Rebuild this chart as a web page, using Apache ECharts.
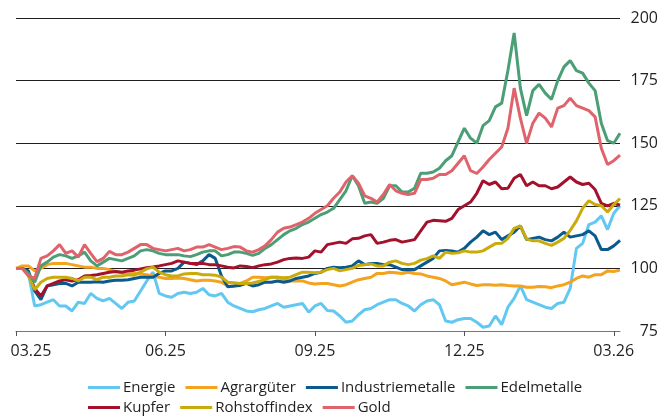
<!DOCTYPE html>
<html>
<head>
<meta charset="utf-8">
<script src="https://cdn.jsdelivr.net/npm/echarts@6/dist/echarts.min.js"></script>
<style>
  html, body { margin: 0; padding: 0; background: #fff; }
  #chart { width: 672px; height: 416px; }
</style>
</head>
<body>
<div id="chart"></div>
<script>
// x = Handelstag-Index (ca. 98 Stuetzpunkte von 03.25 bis Anfang 03.26), Index 03.25 = 100
var tickPos = [0, 24, 48, 72, 96];
var tickLabels = ['03.25', '06.25', '09.25', '12.25', '03.26'];

var energie = [100,100,98,85,85.5,86.5,87.5,85,85,83,
    86.5,86,90,88,87,88,86,84,86.5,87,
    91,95,98.5,90,89,88.5,90,90.5,90,90.5,
    92,89.5,89,90,86.5,85,84,83,82.7,83.5,
    84,85,86,84.5,85,85.5,86,82.5,85,86,
    83.2,83,81,78.5,79,81.5,83.5,84,85.5,86.5,
    87.5,87.5,86,85,83,85.5,87,87.5,85.5,79,
    78.5,79.5,80,80,78.5,76.5,77,81,77.5,84.5,
    88,93,87.5,86.5,85.5,84.5,84,86,86.5,92,
    108,110,117.5,118.5,121,115.5,122,125];

var agrar = [100,101,101,99,100,101.5,102,102,102,101.5,
    101,100.5,100.5,100,100,99.5,98.8,98.3,97.8,98,
    97.8,97.5,97,96.5,96,96,96.2,96,95.5,95,
    95.3,95.3,95,94.5,93,92.8,94,95,96.5,96.5,
    96.3,96.5,96.5,95.5,95,95,95,94.2,93.8,94,
    94,93.5,93,93.5,94.5,95.5,96,96.5,98,98,
    98.5,98.3,98,98.5,98,97.8,97,96.5,96,95,
    93.5,94,94.5,93.8,93.2,93.5,93.5,93.3,93.5,93.2,
    93,93,92.5,92.5,92.8,92.7,92.3,93,93.5,94.5,
    96,97,96.5,97.5,97.5,99,98.8,99.3];

var industrie = [100,100,99,91,87.5,93,93.5,94,94,93,
    94.5,94.5,94.5,94.7,94.5,95,95.3,95.3,95.5,96,
    96.5,96.5,96.5,98,99,99,100,102.5,102,101.5,
    103,105.5,104,97,92.7,93,93.2,94,93,93.5,
    94.5,94.5,95,94.5,95,96,96.5,97,98,98.5,
    100,100.5,100.3,100.5,101,103,101.5,102,102,101.5,
    101.5,100.5,99.5,99.5,99.5,101,102.5,104,107,107.2,
    107,106.5,108,110.5,112.5,115,113.5,114.5,111.5,113,
    114.5,117,111.5,112,112.5,111.5,111,112.5,114.5,112.5,
    113,113.5,115,113,107.5,107.5,109,111.2];

var edel = [100,100,98,94.5,101,102.5,104.5,105.5,105,104,
    105,106.5,103,101,102.5,104,103.5,103,104,105,
    107,107.5,107,106,105.5,105.5,105.5,105,104.7,105.5,
    106.5,107,107,105,105.5,106.5,106.5,106,105.2,106,
    108,109.5,111.5,113.5,115,116,117.5,118.5,120,121.5,
    122.5,124,127.5,131,137,133,126,126.5,126,128,
    133,133,130.5,130.5,132,138,138,138.5,140,143,
    145,150.5,156,152,150,157,159,164.5,166,179,
    194,172,161,171,173.5,170,167.5,175,180.5,183,
    179,178,174,171,158,151,150,154];

var kupfer = [100,100,98,92,89,93,94,95,95.5,95,
    95.5,97,97.2,97.5,98,98.5,98.8,98.5,99,99.3,
    99.8,100.3,100.6,101,101.5,102,103,102.5,102,102,
    102,101.5,101.5,101,100.5,100.2,101,100.8,100.3,101,
    101.5,101.8,102.5,103.5,104,104.2,104,104.5,107,106.5,
    109.5,110,110.5,110,111.8,112,113,113.5,110,110.5,
    111.2,111.5,110.5,111,111.5,115,118.5,119.2,119,118.8,
    120,123.5,125,126.5,130,135,133.5,134.5,131.8,132,
    136,137.5,133,134.5,133,133,131.8,132.5,134.5,136.5,
    134.5,133.5,134,131.5,126,125,126,125.2];

var rohstoff = [100,100,97,91.5,94.5,96,96.5,96.5,96.5,96,
    95,96.5,96.5,95.5,96.5,96.5,97,97,97.5,97.3,
    98.5,99.8,100.5,98.5,97.5,97,97,97.8,98,98,
    97.5,97.5,97.3,96.5,94.5,94.3,94,94,94.2,94.8,
    95.5,96.5,96.5,96.3,96.5,97.5,98.5,98.5,98.3,98.5,
    99.5,100,99,99.5,100,101.2,101.5,101.8,101,101,
    102.5,103,102,101.5,102,103.3,103.9,105,104,106.5,
    106,106.2,107,106.5,106.5,107,108.5,109.9,110,112,
    116,117,111.7,111,111,110,109.2,110.5,112,115.2,
    119,124,127,125.5,125,122.5,125.5,127.9];

var gold = [100,100,97,96,104,105,107,109.5,106,107,
    104.5,109.5,106,102.7,104,106.8,105.5,105.5,106.5,108,
    109.5,109.5,108,107.5,107,107.5,108,107,107.5,108.5,
    108.5,109.5,108.5,107.5,108,108.7,108.5,107,106.5,107.5,
    109,111.5,114.5,116,116.5,117.5,118.5,120,122,123.5,
    125,128,130.5,134.5,137,134,129,128,126.5,129.5,
    133.5,131,130,129.5,130,135.5,135.5,136,137.5,137.5,
    139,142,145,139,137.9,140.5,143.5,146,148.5,156,
    172,160,150,158,162,160,156.5,164,165,168,
    165,164,163,160.5,148,141.5,143,145.2];

var FONT = 'Open Sans';
var TXT = '#231f20';

function mkSeries(name, values, color) {
    return {
        name: name,
        type: 'line',
        symbol: 'none',
        smooth: false,
        lineStyle: { color: color, width: 3 },
        itemStyle: { color: color },
        data: values.map(function(v, i) { return [i, v]; })
    };
}

var legendCommon = {
    left: 83,
    orient: 'horizontal',
    icon: 'rect',
    itemWidth: 32,
    itemHeight: 3,
    itemGap: 10,
    textStyle: { fontFamily: FONT, fontSize: 15, color: TXT, padding: [0, 0, 0, -2] }
};

var chart = echarts.init(document.getElementById('chart'), null, { renderer: 'canvas' });

chart.setOption({
    animation: false,
    backgroundColor: '#fff',
    grid: { left: 16, right: 52, top: 18, bottom: 85, containLabel: false },
    legend: [
        Object.assign({ top: 375, data: ['Energie', 'Agrargüter', 'Industriemetalle', 'Edelmetalle'] }, legendCommon),
        Object.assign({ top: 395, data: ['Kupfer', 'Rohstoffindex', 'Gold'] }, legendCommon)
    ],
    xAxis: {
        type: 'value',
        min: 0,
        max: 97,
        splitLine: { show: false },
        axisLine: { show: true, lineStyle: { color: '#777', width: 1 } },
        axisTick: { show: true, length: 5, customValues: tickPos, lineStyle: { color: '#555' } },
        axisLabel: {
            // erstes Label leicht nach rechts versetzt wie im Original
            customValues: [2.4, 24, 48, 72, 96],
            margin: 12,
            fontFamily: FONT,
            fontSize: 16,
            color: TXT,
            formatter: function(v) {
                var best = 0;
                for (var k = 0; k < tickPos.length; k++) {
                    if (Math.abs(tickPos[k] - v) < Math.abs(tickPos[best] - v)) best = k;
                }
                return tickLabels[best];
            }
        }
    },
    yAxis: {
        type: 'value',
        position: 'right',
        min: 75,
        max: 200,
        interval: 25,
        axisLine: { show: false },
        axisTick: { show: false },
        splitLine: { show: true, lineStyle: { color: ['#777', TXT, TXT, TXT, TXT, TXT], width: 1 } },
        axisLabel: { margin: 38, align: 'right', fontFamily: FONT, fontSize: 16, color: TXT }
    },
    series: [
        mkSeries('Energie', energie, '#62c8f2'),
        mkSeries('Agrargüter', agrar, '#f4a31f'),
        mkSeries('Industriemetalle', industrie, '#0b5a8e'),
        mkSeries('Kupfer', kupfer, '#a3112c'),
        mkSeries('Rohstoffindex', rohstoff, '#c9ab0c'),
        mkSeries('Edelmetalle', edel, '#4b9e75'),
        mkSeries('Gold', gold, '#e0636b')
    ]
});
</script>
</body>
</html>
